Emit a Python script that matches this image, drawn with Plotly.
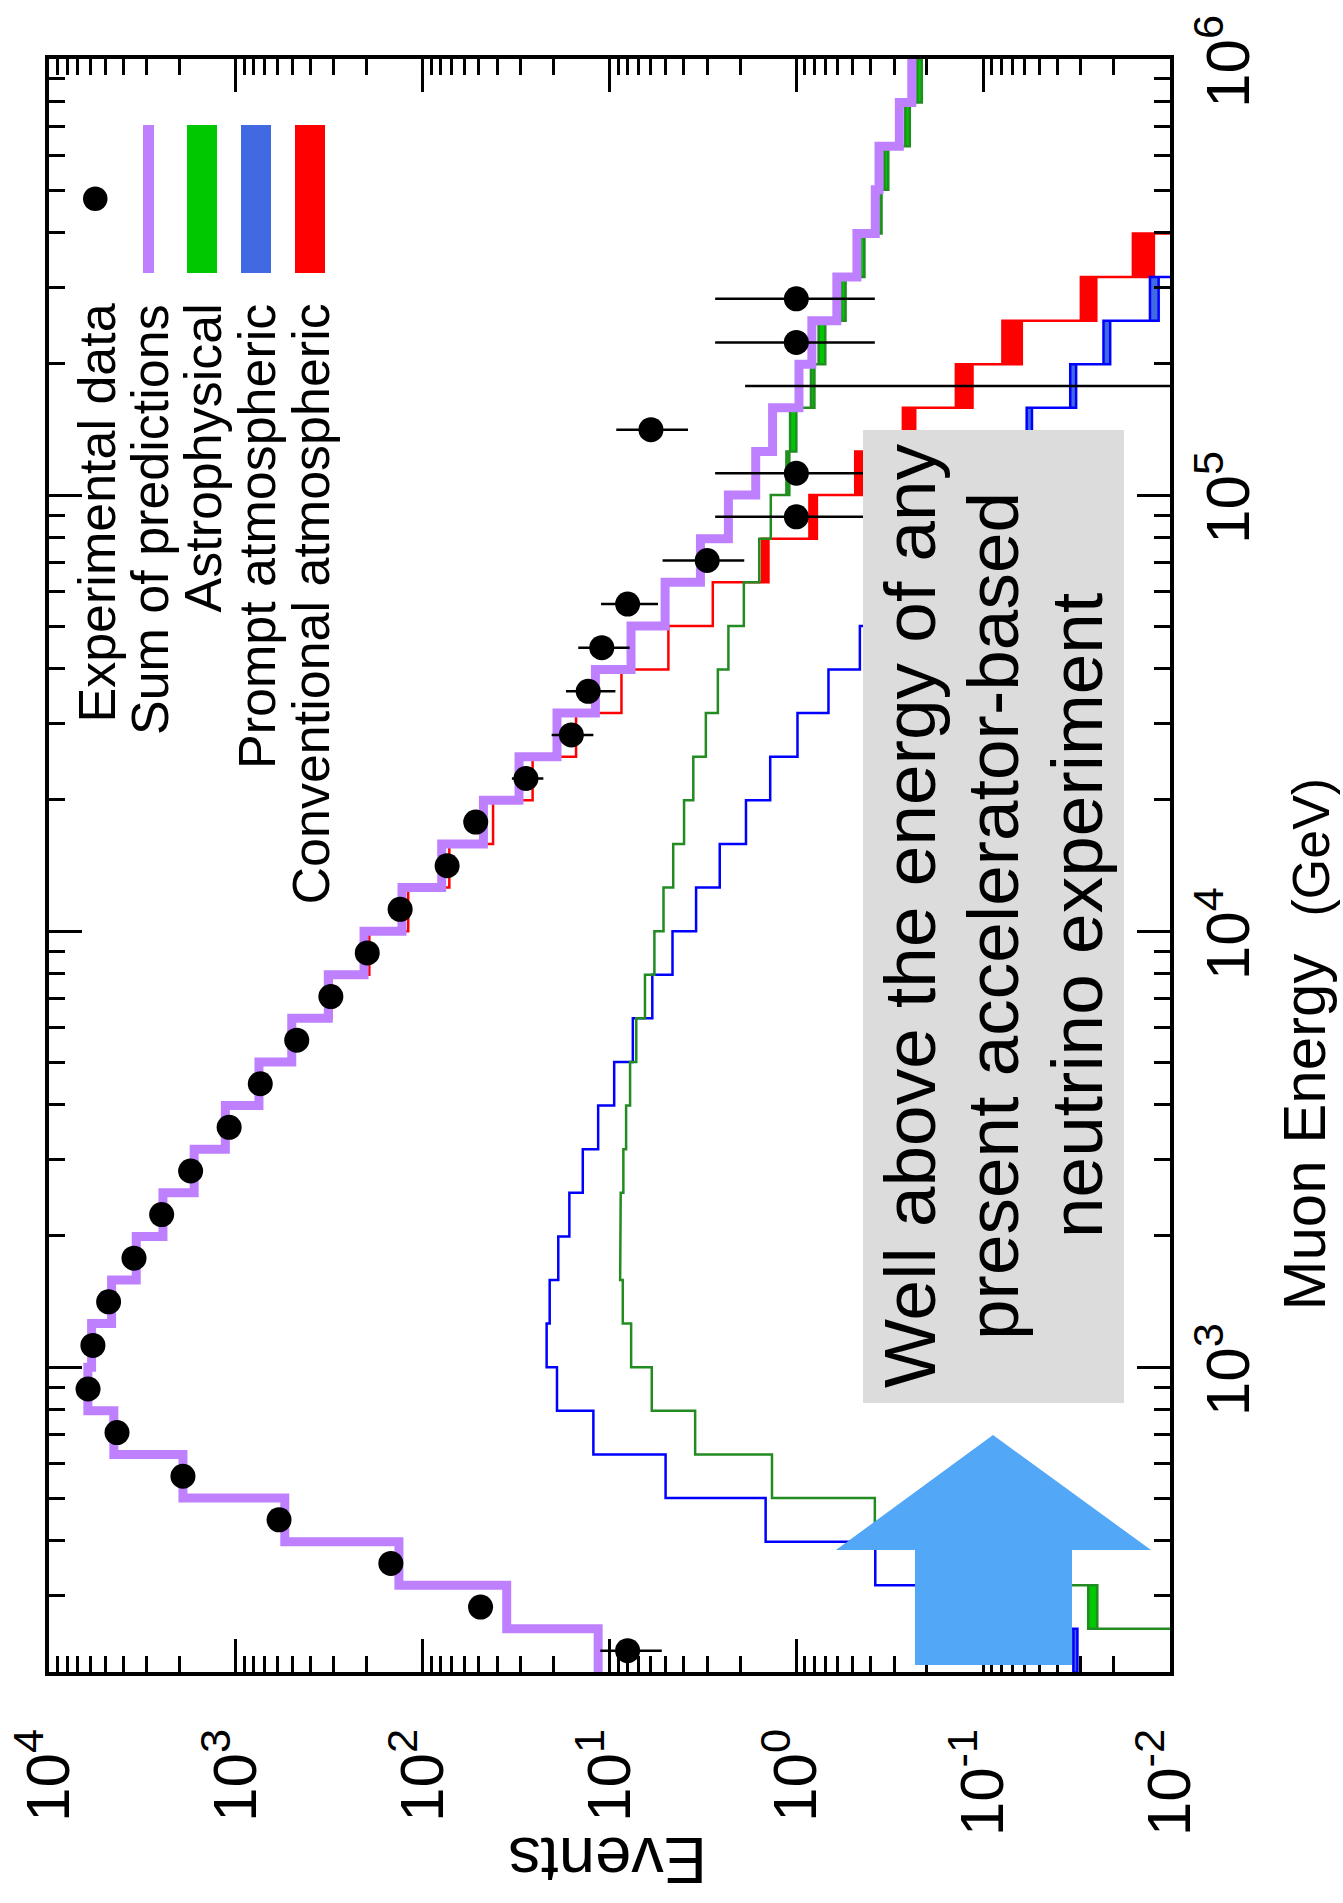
import plotly.graph_objects as go

# ---------------------------------------------------------------
# Muon-energy histogram, drawn in the rotated (landscape-on-portrait)
# orientation: event counts run horizontally (reversed log axis),
# muon energy runs vertically (log axis, labelled on the right).
# ---------------------------------------------------------------

# bin edges in log10(E / GeV), 0.1-decade bins
bin_edges_log10 = [2.3, 2.4, 2.5, 2.6, 2.7, 2.8, 2.9, 3.0, 3.1, 3.2, 3.3, 3.4,
                   3.5, 3.6, 3.7, 3.8, 3.9, 4.0, 4.1, 4.2, 4.3, 4.4, 4.5, 4.6,
                   4.7, 4.8, 4.9, 5.0, 5.1, 5.2, 5.3, 5.4, 5.5, 5.6, 5.7, 5.8,
                   5.9, 6.0]

# sum of all predictions (per bin)
sum_pred = [11.5, 35.5, 134, 547, 1919, 4498, 6194, 5916, 4624, 3412, 2455,
            1671, 1138, 752, 502, 320, 206, 129, 79.1, 47.3, 30.5, 19.1, 11.9,
            7.67, 5.04, 3.26, 2.31, 1.65, 1.34, 0.968, 0.826, 0.607, 0.474,
            0.378, 0.361, 0.281, 0.241]

# conventional atmospheric: lower / upper edge of the band
conv_low = [11.4, 35.4, 133, 545, 1912, 4480, 6170, 5887, 4595, 3385, 2430,
            1649, 1118, 735, 487, 308, 193, 119.5, 72.0, 42.0, 25.8, 15.1,
            8.63, 4.84, 2.80, 1.41, 0.776, 0.438, 0.231, 0.114, 0.0621,
            0.0248, 0.0122, 0.0055, 0.0028, 0.0014, 0.0007]
conv_high = [11.4, 35.4, 133, 545, 1912, 4480, 6170, 5887, 4595, 3385, 2430,
             1649, 1118, 735, 487, 308, 193, 119.5, 72.0, 42.0, 25.8, 15.1,
             8.63, 4.84, 2.80, 1.53, 0.851, 0.484, 0.269, 0.140, 0.0789,
             0.0300, 0.0158, 0.0072, 0.0037, 0.0019, 0.0010]

# prompt atmospheric: lower / upper edge of the band
prompt_low = [0.0313, 0.098, 0.378, 1.46, 5.01, 12.2, 19.1, 21.7, 20.9, 18.8,
              16.4, 13.9, 11.5, 9.44, 7.50, 5.90, 4.60, 3.44, 2.57, 1.86,
              1.38, 0.986, 0.673, 0.457, 0.29, 0.195, 0.127, 0.086, 0.0548,
              0.0318, 0.0209, 0.0115, 0.0068, 0.0042, 0.0026, 0.0016, 0.0010]
prompt_high = [0.0329, 0.102, 0.378, 1.46, 5.01, 12.2, 19.1, 21.7, 20.9, 18.8,
               16.4, 13.9, 11.5, 9.44, 7.50, 5.90, 4.60, 3.44, 2.57, 1.86,
               1.38, 0.986, 0.673, 0.457, 0.31, 0.205, 0.133, 0.090, 0.0585,
               0.0342, 0.0227, 0.0128, 0.0076, 0.0048, 0.0030, 0.0019, 0.0012]

# astrophysical: lower / upper edge of the band
astro_low = [0.0045, 0.0245, 0.095, 0.38, 1.35, 3.48, 5.94, 7.66, 8.49, 8.77,
             8.71, 8.43, 8.15, 7.76, 7.19, 6.46, 5.75, 5.14, 4.56, 3.99, 3.56,
             3.05, 2.63, 2.31, 1.91, 1.58, 1.37, 1.09, 1.00, 0.800, 0.700,
             0.545, 0.432, 0.350, 0.322, 0.247, 0.213]
astro_high = [0.0052, 0.0274, 0.105, 0.38, 1.35, 3.48, 5.94, 7.66, 8.49, 8.77,
              8.71, 8.43, 8.15, 7.76, 7.19, 6.46, 5.75, 5.14, 4.56, 3.99, 3.56,
              3.05, 2.63, 2.31, 1.91, 1.58, 1.37, 1.13, 1.08, 0.835, 0.760,
              0.575, 0.455, 0.368, 0.338, 0.261, 0.225]

# observed events in the first 32 bins (2.3 ... 5.5), with error bars
observed = [8, 49, 148, 587, 1919, 4325, 6180, 5821, 4797, 3508, 2495, 1746,
            1086, 740, 472, 310, 198, 132, 74, 52, 28, 16, 13, 11, 8, 3, 1, 1,
            6, 0, 1, 1]
err_up = [3.2, 7.5, 12.5, 24, 44, 66, 79, 76, 69, 59, 50, 42, 33, 27, 22, 18,
          14, 11.5, 8.6, 7.2, 5.3, 4.4, 4.1, 3.7, 3.1, 2.2, 1.72, 1.72, 3.2,
          1.88, 1.72, 1.72]
err_down = [2.75, 7, 12, 24, 44, 66, 79, 76, 69, 59, 50, 42, 33, 27, 22, 18,
            14, 11.5, 8.6, 7.2, 5.4, 3.8, 3.7, 3.2, 2.5, 1.1, 0.62, 0.62, 2.2,
            0, 0.62, 0.62]

events_ticks = [1e4, 1e3, 1e2, 1e1, 1e0, 1e-1, 1e-2]
events_ticktext = ["10<sup>4</sup>", "10<sup>3</sup>", "10<sup>2</sup>",
                   "10<sup>1</sup>", "10<sup>0</sup>", "10<sup>-1</sup>",
                   "10<sup>-2</sup>"]
energy_ticks = [1e3, 1e4, 1e5, 1e6]
energy_tick_exponents = [3, 4, 5, 6]
energy_ticktext = ["10<sup>3</sup>", "10<sup>4</sup>", "10<sup>5</sup>",
                   "10<sup>6</sup>"]

legend_labels = ["Experimental data", "Sum of predictions", "Astrophysical",
                 "Prompt atmospheric", "Conventional atmospheric"]

# colours
PURPLE = "rgb(191,128,255)"
GREEN_LINE, GREEN_FILL = "rgb(34,139,34)", "rgb(0,200,0)"
BLUE_LINE, BLUE_FILL = "rgb(0,0,255)", "rgb(65,105,225)"
RED_LINE, RED_FILL = "rgb(255,0,0)", "rgb(255,0,0)"
ARROW_BLUE = "rgb(82,167,247)"
FONT = "Liberation Sans, Arial, Helvetica, sans-serif"

edges = [10 ** e for e in bin_edges_log10]
centers = [10 ** ((a + b) / 2) for a, b in zip(bin_edges_log10[:-1], bin_edges_log10[1:])]


def step_line(values):
    xs, ys = [], []
    for i, v in enumerate(values):
        xs += [v, v]
        ys += [edges[i], edges[i + 1]]
    return xs, ys


def band_polygon(lo, hi):
    xs, ys = step_line(lo)
    for i in range(len(hi) - 1, -1, -1):
        xs += [hi[i], hi[i]]
        ys += [edges[i + 1], edges[i]]
    xs.append(xs[0])
    ys.append(ys[0])
    return xs, ys


fig = go.Figure()

for lo, hi, lc, fc in [(conv_low, conv_high, RED_LINE, RED_FILL),
                       (prompt_low, prompt_high, BLUE_LINE, BLUE_FILL),
                       (astro_low, astro_high, GREEN_LINE, GREEN_FILL)]:
    bx, by = band_polygon(lo, hi)
    fig.add_trace(go.Scatter(x=bx, y=by, mode="lines", fill="toself",
                             fillcolor=fc, line=dict(color=lc, width=2.5),
                             hoverinfo="skip", showlegend=False))

sx, sy = step_line(sum_pred)
fig.add_trace(go.Scatter(x=sx, y=sy, mode="lines",
                         line=dict(color=PURPLE, width=9),
                         hoverinfo="skip", showlegend=False))

# measured points (non-empty bins)
n_obs = len(observed)
pts = [i for i in range(n_obs) if observed[i] > 0]
fig.add_trace(go.Scatter(
    x=[observed[i] for i in pts], y=[centers[i] for i in pts], mode="markers",
    marker=dict(color="black", size=25),
    error_x=dict(type="data", symmetric=False,
                 array=[err_up[i] for i in pts],
                 arrayminus=[err_down[i] for i in pts],
                 color="black", thickness=2.5, width=0),
    showlegend=False))

# empty bins: only the upper end of the interval can be shown
for i in range(n_obs):
    if observed[i] == 0:
        fig.add_trace(go.Scatter(x=[err_up[i], 1e-4], y=[centers[i], centers[i]],
                                 mode="lines", line=dict(color="black", width=2.5),
                                 hoverinfo="skip", showlegend=False))

# ---- page geometry (pixels) ----
W, H = 1343, 1903
L, R, T, B = 49, 1170, 59, 1672


def px(x):
    return (x - L) / (R - L)


def py(y):
    return (B - y) / (B - T)


minor_events = [k * 10.0 ** p for p in range(-2, 4) for k in range(2, 10)]
minor_energy = [k * 10.0 ** p for p in range(2, 6) for k in range(2, 10)
                if k * 10.0 ** p >= 200]

axis_common = dict(type="log", showline=True, linewidth=4, linecolor="black",
                   mirror="allticks", ticks="inside", ticklen=33, tickwidth=3,
                   tickcolor="black", showgrid=False, zeroline=False,
                   tickangle=-90, automargin=False,
                   tickfont=dict(family=FONT, size=62, color="black"))

fig.update_layout(
    width=W, height=H, autosize=False,
    margin=dict(l=L, r=W - R, t=T, b=H - B, pad=0),
    paper_bgcolor="white", plot_bgcolor="white",
    font=dict(family=FONT, color="black"),
    xaxis=dict(range=[4, -2], tickvals=events_ticks, ticktext=events_ticktext,
               ticklabelstandoff=28,
               minor=dict(ticks="inside", ticklen=16, tickwidth=3,
                          tickcolor="black", tickvals=minor_events,
                          showgrid=False),
               **axis_common),
    yaxis=dict(range=[2.30103, 6], side="right", tickvals=energy_ticks,
               showticklabels=False,
               minor=dict(ticks="inside", ticklen=16, tickwidth=3,
                          tickcolor="black", tickvals=minor_energy,
                          showgrid=False),
               **axis_common),
)

shapes = []
annotations = []

# energy tick labels, placed beside the right-hand axis
for expo, txt in zip(energy_tick_exponents, energy_ticktext):
    annotations.append(dict(text=txt, textangle=-90, showarrow=False,
                            xref="paper", yref="y", x=px(1182), y=expo,
                            xanchor="left", yanchor="middle", yshift=-3,
                            font=dict(family=FONT, size=62, color="black")))

# legend samples
shapes.append(dict(type="circle", xref="paper", yref="paper",
                   x0=px(83), x1=px(107.5), y0=py(211), y1=py(186.5),
                   fillcolor="black", line=dict(width=0), layer="above"))
for (x0, x1), col in [((143, 154), PURPLE), ((187, 217), GREEN_FILL),
                      ((241, 271), BLUE_FILL), ((295, 325), RED_FILL)]:
    shapes.append(dict(type="rect", xref="paper", yref="paper",
                       x0=px(x0), x1=px(x1), y0=py(273), y1=py(125),
                       fillcolor=col, line=dict(width=0), layer="above"))
for k, label in enumerate(legend_labels):
    annotations.append(dict(text=label, textangle=-90, showarrow=False,
                            xref="paper", yref="paper",
                            x=px(96 + 53.5 * k), y=py(302),
                            xanchor="center", yanchor="top",
                            font=dict(family=FONT, size=52, color="black")))

# grey note box with three lines of text
shapes.append(dict(type="rect", xref="paper", yref="paper",
                   x0=px(863), x1=px(1124), y0=py(1403), y1=py(430),
                   fillcolor="rgb(220,220,220)", line=dict(width=0),
                   layer="above"))
for xc, line_text in [(909, "Well above the energy of any"),
                      (992, "present accelerator-based"),
                      (1076, "neutrino experiment")]:
    annotations.append(dict(text=line_text, textangle=-90, showarrow=False,
                            xref="paper", yref="paper", x=px(xc), y=py(916),
                            xanchor="center", yanchor="middle",
                            font=dict(family=FONT, size=73, color="black")))

# upward arrow
arrow_pts = [(993, 1435), (1151, 1550), (1072, 1550), (1072, 1665),
             (915, 1665), (915, 1550), (836, 1550)]
path = "M " + " L ".join(f"{px(x):.5f},{py(y):.5f}" for x, y in arrow_pts) + " Z"
shapes.append(dict(type="path", path=path, xref="paper", yref="paper",
                   fillcolor=ARROW_BLUE, line=dict(width=0), layer="above"))

# axis titles
annotations.append(dict(text="Events", textangle=180, showarrow=False,
                        xref="paper", yref="paper", x=px(608), y=py(1861),
                        xanchor="center", yanchor="middle",
                        font=dict(family=FONT, size=65, color="black")))
annotations.append(dict(text="Muon Energy", textangle=-90, showarrow=False,
                        xref="paper", yref="paper", x=px(1304), y=py(1313),
                        xanchor="center", yanchor="bottom",
                        font=dict(family=FONT, size=60, color="black")))
annotations.append(dict(text="(GeV)", textangle=-90, showarrow=False,
                        xref="paper", yref="paper", x=px(1310), y=py(776),
                        xanchor="center", yanchor="top",
                        font=dict(family=FONT, size=52, color="black")))

fig.update_layout(shapes=shapes, annotations=annotations)

fig.write_html("out.html")
